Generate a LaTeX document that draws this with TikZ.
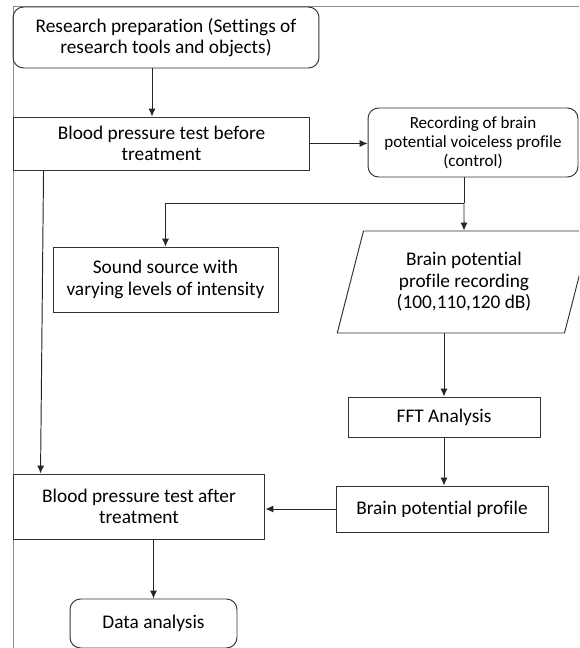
\documentclass[tikz,border=0pt]{standalone}
\usepackage{fontspec}
\setmainfont{Carlito}[Ligatures=NoCommon]
\usetikzlibrary{arrows.meta,shapes.geometric}

\begin{document}
\begin{tikzpicture}[x=0.02cm,y=-0.02cm,
  box/.style={draw=black!80,line width=0.55pt,align=center,inner sep=1pt,font=\fontsize{11}{12.3}\selectfont},
  rbox/.style={box,rounded corners=6pt},
  link/.style={draw=black!85,line width=0.55pt,-{Latex[length=4.5pt,width=4pt]}}]
\useasboundingbox (0,0) rectangle (579,648);
\clip (0,0) rectangle (579,648);
\draw[black!45,line width=0.5pt] (13,648) -- (13,6) -- (579,6);
\node[rbox,minimum width=6.12cm,minimum height=1.22cm] (prep) at (166,37.5) {Research preparation (Settings of\\research tools and objects)};
\node[box,minimum width=5.94cm,minimum height=1.06cm] (bpb) at (161.5,143.5) {Blood pressure test before\\treatment};
\node[rbox,minimum width=4.2cm,minimum height=1.38cm,font=\fontsize{9.7}{10.8}\selectfont] (rec) at (473,142.5) {Recording of brain\\potential voiceless profile\\(control)};
\node[box,minimum width=4.5cm,minimum height=1.3cm] (sound) at (165.5,279.5) {Sound source with\\varying levels of intensity};
\node[box,trapezium,trapezium left angle=74,trapezium right angle=106,trapezium stretches=true,minimum width=5.12cm,minimum height=2.04cm] (par) at (464,282) {Brain potential\\profile recording\\(100,110,120 dB)};
\node[box,minimum width=3.84cm,minimum height=0.8cm] (fft) at (444,417) {FFT Analysis};
\node[box,minimum width=4.24cm,minimum height=0.92cm] (bpp) at (442,509) {Brain potential profile};
\node[box,minimum width=5.04cm,minimum height=1.3cm] (bpa) at (139,506.5) {Blood pressure test after\\treatment};
\node[rbox,minimum width=3.34cm,minimum height=0.98cm] (data) at (153.5,623.5) {Data analysis};
\coordinate (split) at (464,203);
\draw[link] ([xshift=-0.28cm]prep.south) -- ([xshift=-0.28cm]prep.south |- bpb.north);
\draw[link] (bpb.east) -- (bpb.east -| rec.west);
\draw[draw=black!85,line width=0.55pt] (rec.south -| split) -- (split);
\draw[link] (split) -- (par.north);
\draw[link] (split) -| (sound.north);
\draw[link] (par.south -| fft.north) -- (fft.north);
\draw[link] (fft.south) -- (fft.south |- bpp.north);
\draw[link] (bpp.west) -- (bpp.west -| bpa.east);
\draw[link] ([xshift=0.62cm]bpb.south west) -- ([xshift=0.56cm]bpa.north west);
\draw[link] (bpa.south -| data.north) -- (data.north);
\end{tikzpicture}
\end{document}
